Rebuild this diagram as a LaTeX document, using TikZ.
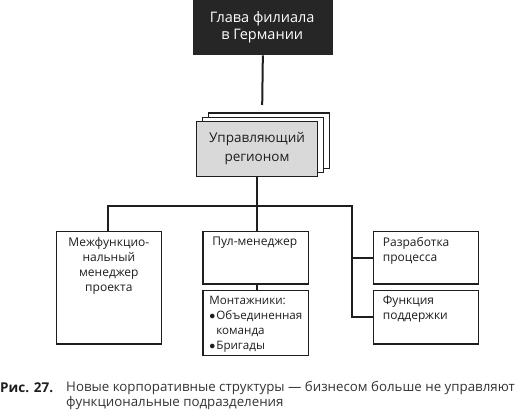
\documentclass[tikz,border=0pt]{standalone}
\usepackage{fontspec}
\setmainfont{Open Sans}
\definecolor{headfill}{HTML}{262626}
\definecolor{mgrfill}{HTML}{D9D9D9}
\definecolor{linec}{HTML}{1E1E1E}
\definecolor{capc}{HTML}{333333}
\newcommand{\bul}{\ensuremath{\bullet}\hspace{1pt}}
\tikzset{
  box/.style={draw=linec, line width=1.3pt, fill=white, rectangle, inner sep=0pt, anchor=north west},
  headbox/.style={box, fill=headfill, draw=headfill},
  mgrbox/.style={box, fill=mgrfill},
  conn/.style={draw=linec, line width=2pt},
  txt/.style={font=\fontsize{12}{15}\selectfont, inner sep=0pt, text=linec},
}
\begin{document}
\begin{tikzpicture}[x=1pt,y=-1pt]
\useasboundingbox (0,0) rectangle (523,417);
% head
\node[headbox, minimum width=139, minimum height=54] (head) at (192.7,0) {};
\node[txt, text=white, align=center, font=\fontsize{14.5}{17}\selectfont] (headt) at (262.2,27) {Глава филиала\\в Германии};
\coordinate (headend) at (262.2,105);
\draw[conn] (head.south) -- (headend);
% manager stack
\node[box, minimum width=121.3, minimum height=55.5] (mgr3) at (207.7,112.5) {};
\node[box, minimum width=121, minimum height=55.3] (mgr2) at (201.7,116.7) {};
\node[mgrbox, minimum width=121.3, minimum height=55.3] (mgr) at (195.7,120.7) {};
\node[txt, align=center, font=\fontsize{13.5}{19}\selectfont] (mgrt) at (mgr.center) {Управляющий\\регионом};
% bus
\coordinate (busl) at (108,206);
\coordinate (busm) at (mgr.south |- busl);
\coordinate (busr) at (352.3,206);
% boxes
\node[box, minimum width=105, minimum height=112.6] (mf) at (55.7,230.7) {};
\node[txt, align=center, anchor=north] (mft) at ([yshift=-6]mf.north) {Межфункцио-\\нальный\\менеджер\\проекта};
\node[box, minimum width=105.5, minimum height=52.6] (pool) at (202.2,230.7) {};
\node[txt, anchor=north west] (poolt) at ([xshift=10,yshift=-6]pool.north west) {Пул-менеджер};
\node[box, minimum width=105.5, minimum height=65] (mont) at (202.2,290) {};
\node[txt, anchor=north west, align=left, font=\fontsize{11.6}{15}\selectfont] (montt) at ([xshift=7,yshift=-6]mont.north west) {Монтажники:\\\bul Объединенная\\\hphantom{\bul}команда\\\bul Бригады};
\node[box, minimum width=105, minimum height=52.6] (proc) at (372.7,230.7) {};
\node[txt, anchor=north west, align=left] (proct) at ([xshift=10,yshift=-6]proc.north west) {Разработка\\процесса};
\node[box, minimum width=105, minimum height=53.3] (supp) at (372.7,290) {};
\node[txt, anchor=north west, align=left] (suppt) at ([xshift=10,yshift=-6]supp.north west) {Функция\\поддержки};
% connectors
\draw[conn] (mgr.south) -- (busm);
\draw[conn] (mf.north -| busl) -- (busl) -- (busr) -- (busr |- supp.west) -- (supp.west);
\draw[conn] (busm) -- (pool.north -| busm);
\draw[conn] (busr |- proc.west) -- (proc.west);
\draw[conn, line width=1.3pt] (pool.south -| busm) -- (mont.north -| busm);
% caption
\node[anchor=west, inner sep=0pt, font=\fontsize{13.5}{15}\selectfont\bfseries, text=linec] (capn) at (0,388) {Рис. 27.};
\node[anchor=north west, inner sep=0pt, align=left, font=\fontsize{13.3}{15}\selectfont, text=capc] (capt) at (66,381) {Новые корпоративные структуры — бизнесом больше не управляют\\функциональные подразделения};
\end{tikzpicture}
\end{document}
